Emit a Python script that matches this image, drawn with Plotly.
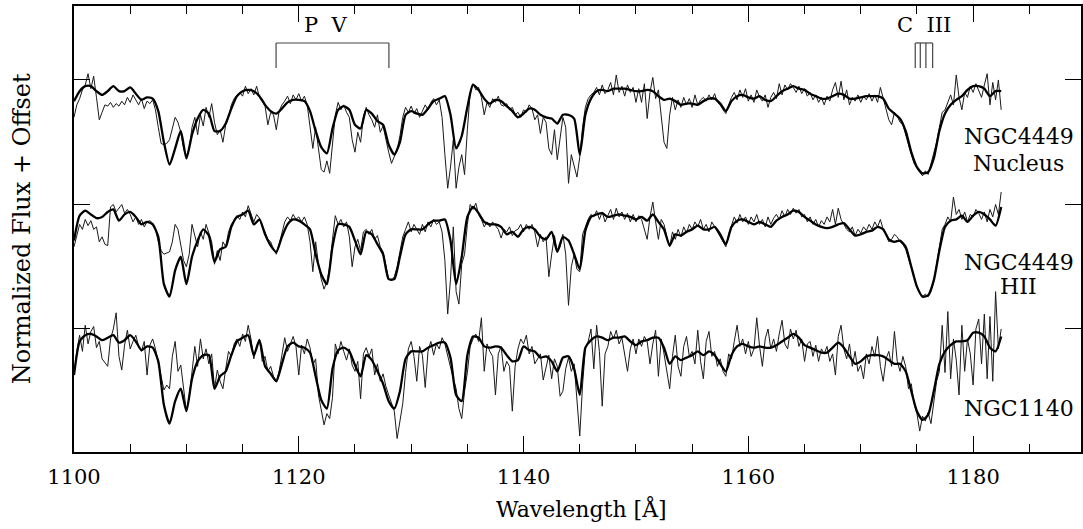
import numpy as np
import plotly.graph_objects as go

# model fits (thick lines), sampled every 0.5 A from 1100 A
model_nucleus = [
    0.83, 0.91, 0.95, 0.95, 0.91, 0.88, 0.91, 0.95, 0.91, 0.91,
    0.94, 0.89, 0.84, 0.86, 0.85, 0.75, 0.50, 0.32, 0.45, 0.59,
    0.37, 0.56, 0.69, 0.76, 0.73, 0.59, 0.59, 0.65, 0.77, 0.87,
    0.91, 0.92, 0.91, 0.87, 0.80, 0.75, 0.73, 0.77, 0.82, 0.84,
    0.84, 0.83, 0.75, 0.59, 0.46, 0.41, 0.61, 0.76, 0.79, 0.76,
    0.64, 0.61, 0.76, 0.73, 0.67, 0.64, 0.48, 0.40, 0.50, 0.72,
    0.75, 0.73, 0.72, 0.77, 0.83, 0.85, 0.87, 0.72, 0.45, 0.55,
    0.78, 0.96, 0.92, 0.85, 0.81, 0.84, 0.83, 0.79, 0.75, 0.70,
    0.73, 0.77, 0.76, 0.72, 0.70, 0.69, 0.65, 0.72, 0.72, 0.69,
    0.40, 0.72, 0.85, 0.91, 0.92, 0.91, 0.93, 0.93, 0.93, 0.92,
    0.91, 0.91, 0.92, 0.91, 0.87, 0.84, 0.85, 0.83, 0.80, 0.81,
    0.81, 0.80, 0.83, 0.85, 0.85, 0.81, 0.75, 0.83, 0.87, 0.88,
    0.86, 0.85, 0.87, 0.84, 0.83, 0.87, 0.91, 0.93, 0.95, 0.93,
    0.92, 0.89, 0.87, 0.85, 0.85, 0.87, 0.89, 0.88, 0.85, 0.85,
    0.86, 0.87, 0.87, 0.87, 0.85, 0.77, 0.73, 0.69, 0.59, 0.42,
    0.30, 0.25, 0.26, 0.37, 0.59, 0.73, 0.80, 0.84, 0.87, 0.92,
    0.95, 0.95, 0.93, 0.87, 0.91, 0.91,
]
model_hii = [
    0.71, 0.91, 0.95, 0.92, 0.89, 0.90, 0.94, 0.96, 0.87, 0.92,
    0.94, 0.90, 0.84, 0.86, 0.84, 0.74, 0.36, 0.26, 0.47, 0.58,
    0.36, 0.58, 0.71, 0.80, 0.75, 0.54, 0.64, 0.66, 0.82, 0.90,
    0.92, 0.95, 0.84, 0.88, 0.76, 0.67, 0.62, 0.74, 0.84, 0.88,
    0.87, 0.84, 0.80, 0.60, 0.44, 0.36, 0.66, 0.84, 0.84, 0.82,
    0.71, 0.60, 0.78, 0.76, 0.68, 0.60, 0.40, 0.40, 0.58, 0.76,
    0.80, 0.80, 0.80, 0.84, 0.87, 0.87, 0.88, 0.71, 0.36, 0.58,
    0.90, 0.98, 0.93, 0.86, 0.84, 0.84, 0.82, 0.76, 0.78, 0.74,
    0.80, 0.82, 0.80, 0.74, 0.72, 0.78, 0.62, 0.74, 0.71, 0.60,
    0.48, 0.79, 0.90, 0.92, 0.93, 0.90, 0.91, 0.92, 0.91, 0.90,
    0.88, 0.90, 0.87, 0.92, 0.86, 0.80, 0.67, 0.76, 0.75, 0.78,
    0.80, 0.83, 0.80, 0.80, 0.82, 0.76, 0.68, 0.82, 0.87, 0.88,
    0.86, 0.84, 0.86, 0.84, 0.82, 0.87, 0.90, 0.92, 0.95, 0.94,
    0.90, 0.87, 0.84, 0.82, 0.81, 0.82, 0.84, 0.85, 0.80, 0.75,
    0.76, 0.78, 0.79, 0.82, 0.80, 0.72, 0.70, 0.71, 0.66, 0.50,
    0.34, 0.26, 0.27, 0.39, 0.63, 0.82, 0.87, 0.88, 0.91, 0.86,
    0.91, 0.94, 0.92, 0.88, 0.83, 0.98,
]
model_1140 = [
    0.63, 0.90, 0.95, 0.96, 0.94, 0.91, 0.93, 0.95, 0.89, 0.91,
    0.95, 0.90, 0.83, 0.86, 0.85, 0.74, 0.39, 0.24, 0.42, 0.52,
    0.34, 0.60, 0.74, 0.79, 0.79, 0.52, 0.62, 0.66, 0.79, 0.90,
    0.93, 0.95, 0.79, 0.91, 0.70, 0.64, 0.58, 0.72, 0.86, 0.89,
    0.86, 0.85, 0.81, 0.62, 0.43, 0.36, 0.68, 0.83, 0.85, 0.82,
    0.71, 0.62, 0.79, 0.75, 0.66, 0.56, 0.42, 0.36, 0.50, 0.76,
    0.82, 0.82, 0.82, 0.85, 0.87, 0.89, 0.89, 0.77, 0.47, 0.42,
    0.79, 0.94, 0.93, 0.86, 0.85, 0.86, 0.85, 0.79, 0.74, 0.75,
    0.86, 0.83, 0.82, 0.77, 0.78, 0.74, 0.66, 0.77, 0.78, 0.68,
    0.47, 0.85, 0.91, 0.94, 0.93, 0.91, 0.93, 0.93, 0.94, 0.90,
    0.87, 0.90, 0.91, 0.93, 0.93, 0.85, 0.72, 0.78, 0.75, 0.77,
    0.79, 0.82, 0.79, 0.82, 0.79, 0.72, 0.66, 0.79, 0.86, 0.88,
    0.86, 0.85, 0.86, 0.85, 0.85, 0.87, 0.90, 0.93, 0.96, 0.93,
    0.87, 0.85, 0.83, 0.81, 0.81, 0.85, 0.89, 0.85, 0.78, 0.72,
    0.74, 0.78, 0.79, 0.79, 0.78, 0.75, 0.72, 0.72, 0.66, 0.50,
    0.34, 0.27, 0.31, 0.50, 0.72, 0.82, 0.87, 0.90, 0.90, 0.91,
    0.97, 0.97, 0.94, 0.85, 0.82, 0.94,
]

# observed spectra (thin lines), sampled every 0.25 A from 1100 A
obs_nucleus = [
    0.70, 0.80, 0.85, 0.92, 0.96, 1.05, 0.93, 1.03, 0.86, 0.68, 0.74, 0.80, 0.79, 0.82, 0.78, 0.81, 0.79, 0.83, 0.80, 0.86,
    0.82, 0.88, 0.84, 0.80, 0.85, 0.77, 0.83, 0.81, 0.84, 0.76, 0.62, 0.49, 0.48, 0.49, 0.52, 0.60, 0.70, 0.66, 0.58, 0.45,
    0.38, 0.45, 0.62, 0.70, 0.56, 0.72, 0.63, 0.78, 0.70, 0.81, 0.66, 0.56, 0.60, 0.50, 0.64, 0.70, 0.80, 0.85, 0.88, 0.90,
    0.87, 0.95, 0.89, 0.93, 0.88, 0.95, 0.86, 0.83, 0.79, 0.64, 0.74, 0.72, 0.60, 0.75, 0.80, 0.83, 0.87, 0.81, 0.88, 0.84,
    0.89, 0.83, 0.87, 0.80, 0.60, 0.45, 0.62, 0.44, 0.28, 0.26, 0.35, 0.25, 0.48, 0.72, 0.82, 0.76, 0.80, 0.74, 0.70, 0.52,
    0.42, 0.58, 0.50, 0.70, 0.78, 0.72, 0.68, 0.62, 0.72, 0.58, 0.63, 0.52, 0.42, 0.33, 0.38, 0.44, 0.55, 0.70, 0.78, 0.74,
    0.79, 0.73, 0.77, 0.70, 0.75, 0.80, 0.76, 0.82, 0.85, 0.80, 0.84, 0.70, 0.40, 0.13, 0.30, 0.52, 0.13, 0.30, 0.40, 0.24,
    0.60, 0.90, 0.97, 0.92, 0.94, 0.86, 0.72, 0.82, 0.78, 0.85, 0.82, 0.87, 0.80, 0.79, 0.81, 0.76, 0.78, 0.72, 0.74, 0.70,
    0.76, 0.74, 0.80, 0.77, 0.68, 0.72, 0.57, 0.70, 0.66, 0.45, 0.40, 0.60, 0.36, 0.55, 0.70, 0.62, 0.17, 0.40, 0.30, 0.22,
    0.38, 0.62, 0.78, 0.85, 0.88, 0.90, 0.94, 0.88, 0.96, 0.89, 0.92, 0.98, 0.88, 1.04, 0.90, 0.95, 0.87, 0.96, 0.90, 0.94,
    0.82, 0.93, 0.82, 0.97, 0.69, 0.90, 1.02, 0.85, 0.92, 0.72, 0.50, 0.45, 0.72, 0.86, 0.76, 0.84, 0.78, 0.86, 0.80, 0.85,
    0.78, 0.88, 0.80, 0.84, 0.86, 0.83, 0.88, 0.84, 0.89, 0.82, 0.80, 0.76, 0.73, 0.80, 0.86, 0.90, 0.84, 0.92, 0.86, 0.93,
    0.83, 0.88, 0.82, 0.92, 0.86, 0.83, 0.88, 0.78, 0.86, 0.90, 0.85, 0.97, 0.88, 0.96, 0.92, 0.97, 0.94, 0.90, 0.95, 0.89,
    0.93, 0.87, 0.90, 0.84, 0.88, 0.82, 0.86, 0.80, 0.87, 0.83, 0.92, 0.98, 0.86, 0.99, 0.84, 0.92, 0.80, 0.86, 0.83, 0.88,
    0.82, 0.87, 0.84, 0.89, 0.83, 0.88, 0.82, 0.94, 0.86, 0.78, 0.68, 0.64, 0.74, 0.71, 0.66, 0.64, 0.56, 0.46, 0.40, 0.33,
    0.29, 0.26, 0.23, 0.27, 0.24, 0.32, 0.40, 0.50, 0.62, 0.74, 0.76, 0.82, 0.88, 0.80, 1.04, 0.86, 0.76, 0.90, 0.86, 0.95,
    0.90, 0.97, 0.92, 0.86, 0.96, 1.05, 0.80, 0.98, 0.84, 1.00, 0.76,
]
obs_hii = [
    0.66, 0.75, 0.84, 0.80, 0.88, 0.83, 0.87, 0.80, 0.82, 0.70, 0.74, 0.68, 0.67, 0.98, 1.00, 0.94, 0.97, 1.00, 0.93, 0.96,
    0.92, 0.86, 0.90, 0.84, 0.88, 0.82, 0.86, 0.87, 0.85, 0.80, 0.70, 0.63, 0.60, 0.61, 0.62, 0.70, 0.84, 0.80, 0.66, 0.55,
    0.50, 0.60, 0.84, 0.74, 0.66, 0.78, 0.72, 0.84, 0.76, 0.70, 0.52, 0.63, 0.55, 0.70, 0.66, 0.78, 0.84, 0.87, 0.91, 0.88,
    0.94, 0.90, 0.99, 0.92, 0.86, 0.92, 0.89, 0.82, 0.78, 0.72, 0.70, 0.64, 0.60, 0.68, 0.78, 0.86, 0.90, 0.87, 0.92, 0.88,
    0.90, 0.86, 0.90, 0.84, 0.70, 0.46, 0.70, 0.52, 0.40, 0.32, 0.38, 0.50, 0.72, 0.91, 0.84, 0.88, 0.82, 0.86, 0.74, 0.50,
    0.66, 0.72, 0.63, 0.78, 0.80, 0.76, 0.80, 0.72, 0.75, 0.66, 0.62, 0.52, 0.40, 0.39, 0.42, 0.50, 0.62, 0.74, 0.80, 0.86,
    0.78, 0.84, 0.80, 0.76, 0.84, 0.78, 0.86, 0.82, 0.88, 0.84, 0.86, 0.78, 0.55, 0.12, 0.40, 0.82, 0.30, 0.20, 0.52, 0.60,
    0.84, 1.00, 0.96, 1.01, 0.92, 0.88, 0.82, 0.86, 0.82, 0.86, 0.83, 0.80, 0.73, 0.80, 0.78, 0.82, 0.75, 0.79, 0.80, 0.84,
    0.78, 0.84, 0.80, 0.84, 0.78, 0.66, 0.76, 0.70, 0.74, 0.42, 0.60, 0.75, 0.62, 0.66, 0.76, 0.60, 0.19, 0.50, 0.60, 0.48,
    0.46, 0.76, 0.82, 0.88, 0.92, 0.90, 0.95, 0.88, 0.94, 0.86, 0.91, 0.96, 0.88, 0.97, 0.90, 0.94, 0.88, 0.93, 0.86, 0.92,
    0.86, 0.91, 0.88, 0.80, 0.72, 0.90, 1.02, 0.86, 0.72, 0.88, 0.84, 0.74, 0.66, 0.78, 0.72, 0.80, 0.74, 0.82, 0.77, 0.84,
    0.80, 0.86, 0.82, 0.88, 0.80, 0.84, 0.78, 0.86, 0.82, 0.78, 0.74, 0.70, 0.66, 0.76, 0.84, 0.90, 0.85, 0.92, 0.86, 0.90,
    0.84, 0.90, 0.86, 0.92, 0.84, 0.88, 0.82, 0.90, 0.84, 0.89, 0.92, 0.88, 0.95, 0.90, 0.96, 0.92, 0.97, 0.93, 0.96, 0.90,
    0.92, 0.86, 0.90, 0.84, 0.88, 0.82, 0.87, 0.84, 0.90, 0.86, 0.96, 0.84, 0.97, 0.88, 0.84, 0.80, 0.78, 0.82, 0.75, 0.80,
    0.77, 0.82, 0.79, 0.84, 0.80, 0.86, 0.82, 0.88, 0.80, 0.76, 0.70, 0.72, 0.76, 0.74, 0.70, 0.68, 0.64, 0.56, 0.48, 0.40,
    0.34, 0.29, 0.26, 0.28, 0.26, 0.30, 0.38, 0.52, 0.66, 0.80, 0.84, 0.90, 0.86, 1.06, 0.92, 0.96, 0.88, 0.94, 0.86, 0.92,
    0.90, 0.96, 0.93, 0.88, 0.94, 0.86, 0.96, 0.90, 1.00, 0.92, 1.10,
]
obs_1140 = [
    0.63, 0.82, 0.95, 0.82, 1.03, 0.88, 0.98, 1.02, 0.85, 0.90, 0.76, 0.73, 0.70, 0.92, 1.00, 1.13, 0.78, 0.67, 0.87, 0.99,
    0.84, 0.90, 0.95, 0.86, 0.82, 0.90, 0.63, 0.87, 0.92, 0.84, 0.74, 0.62, 0.51, 0.55, 0.52, 0.78, 0.90, 0.66, 0.71, 0.50,
    0.34, 0.45, 0.68, 0.86, 0.70, 0.92, 0.76, 0.84, 0.72, 0.80, 0.52, 0.67, 0.58, 0.52, 0.68, 0.82, 0.78, 0.88, 0.92, 0.86,
    0.96, 0.90, 1.03, 0.92, 0.76, 0.86, 0.92, 0.74, 0.78, 0.66, 0.70, 0.62, 0.58, 0.66, 0.79, 0.93, 0.82, 0.88, 0.94, 0.86,
    0.63, 0.87, 0.80, 0.92, 0.85, 0.71, 0.76, 0.47, 0.35, 0.23, 0.32, 0.28, 0.45, 0.88, 0.80, 0.90, 0.82, 0.75, 0.84, 0.71,
    0.66, 0.74, 0.44, 0.80, 0.85, 0.78, 0.84, 0.63, 0.72, 0.58, 0.64, 0.54, 0.47, 0.40, 0.34, 0.12, 0.26, 0.40, 0.65, 0.84,
    0.90, 0.78, 0.58, 0.86, 0.79, 0.53, 0.82, 0.90, 0.79, 0.88, 0.84, 0.93, 0.88, 0.78, 0.70, 0.60, 0.52, 0.36, 0.28, 0.50,
    0.65, 0.86, 0.92, 0.96, 0.90, 1.09, 0.66, 0.88, 0.82, 0.78, 0.47, 0.80, 0.86, 0.66, 0.74, 0.70, 0.34, 0.70, 0.84, 0.92,
    0.88, 0.95, 0.80, 0.86, 0.72, 0.76, 0.80, 0.59, 0.70, 0.79, 0.60, 0.76, 0.70, 0.46, 0.50, 0.68, 0.77, 0.66, 0.72, 0.42,
    0.14, 0.55, 0.84, 0.90, 1.00, 0.68, 1.03, 0.82, 0.38, 0.80, 0.86, 0.98, 0.92, 0.99, 0.88, 0.93, 0.80, 0.66, 0.84, 0.92,
    0.80, 0.92, 0.86, 0.94, 0.90, 0.72, 0.88, 0.99, 0.62, 0.92, 0.80, 0.66, 0.52, 0.78, 0.95, 0.70, 0.62, 0.86, 0.94, 0.78,
    0.82, 0.72, 0.99, 0.74, 0.60, 0.90, 0.98, 0.78, 0.82, 0.70, 0.76, 0.66, 0.62, 0.80, 0.76, 0.90, 1.03, 0.86, 0.92, 0.80,
    0.90, 0.78, 0.84, 1.09, 0.86, 0.70, 0.92, 1.00, 0.84, 0.92, 0.82, 0.96, 1.07, 0.88, 0.84, 1.00, 0.92, 0.99, 0.86, 0.92,
    0.74, 0.88, 0.90, 0.78, 0.87, 0.74, 0.84, 0.80, 0.86, 0.74, 0.80, 0.63, 0.94, 1.03, 0.84, 0.76, 0.88, 0.70, 0.82, 0.66,
    0.71, 0.60, 0.80, 0.72, 0.86, 0.78, 0.94, 0.70, 0.58, 0.76, 0.82, 0.70, 0.98, 0.74, 0.66, 0.78, 0.70, 0.52, 0.56, 0.40,
    0.32, 0.18, 0.30, 0.26, 0.33, 0.24, 0.40, 0.58, 0.66, 1.03, 0.65, 1.14, 0.60, 0.92, 0.75, 0.47, 1.03, 0.66, 0.92, 0.80,
    0.55, 1.00, 1.08, 0.72, 1.12, 0.60, 1.10, 0.58, 1.30, 0.84, 1.00,
]

offsets = [2, 1, 0]

# line identifications
pv_lines = [1117.98, 1128.02]
ciii_lines = [1174.85, 1175.3, 1175.8, 1176.4]

FONT = "DejaVu Serif"
fig = go.Figure()

for obs, model, off in zip([obs_nucleus, obs_hii, obs_1140],
                           [model_nucleus, model_hii, model_1140], offsets):
    w_obs = 1100 + 0.25 * np.arange(len(obs))
    w_mod = 1100 + 0.5 * np.arange(len(model))
    fig.add_trace(go.Scatter(x=w_obs, y=np.array(obs) + off, mode="lines",
                             line=dict(color="#1a1a1a", width=1), showlegend=False))
    fig.add_trace(go.Scatter(x=w_mod, y=np.array(model) + off, mode="lines",
                             line=dict(color="black", width=2.3, shape="spline", smoothing=0.6),
                             showlegend=False))

# bracket for P V doublet and C III multiplet
y_lo, y_hi = 3.096, 3.297
br = dict(color="#444", width=1.2)
fig.add_shape(type="line", x0=pv_lines[0], x1=pv_lines[1], y0=y_hi, y1=y_hi, line=br)
for w in pv_lines:
    fig.add_shape(type="line", x0=w, x1=w, y0=y_lo, y1=y_hi, line=br)
fig.add_shape(type="line", x0=ciii_lines[0], x1=ciii_lines[-1], y0=y_hi, y1=y_hi, line=br)
for w in ciii_lines:
    fig.add_shape(type="line", x0=w, x1=w, y0=y_lo, y1=y_hi, line=br)

txt = dict(family=FONT, size=21, color="black")
fig.add_annotation(x=1122.4, y=3.44, text="P\u00a0\u00a0V", showarrow=False, font=txt)
fig.add_annotation(x=1175.6, y=3.44, text="C\u00a0\u00a0III", showarrow=False, font=txt)

lab = dict(family=FONT, size=22, color="black")
fig.add_annotation(x=1184.06, y=2.542, text="NGC4449", showarrow=False, font=lab)
fig.add_annotation(x=1184.06, y=2.333, text="Nucleus", showarrow=False, font=lab)
fig.add_annotation(x=1184.06, y=1.534, text="NGC4449", showarrow=False, font=lab)
fig.add_annotation(x=1184.06, y=1.341, text="HII", showarrow=False, font=lab)
fig.add_annotation(x=1184.06, y=0.365, text="NGC1140", showarrow=False, font=lab)

# axis titles
fig.add_annotation(xref="paper", yref="paper", x=0.5035, y=-0.1256, text="Wavelength [Å]",
                   showarrow=False, font=lab, yanchor="middle")
fig.add_annotation(xref="paper", yref="paper", x=-0.0515, y=0.5, text="Normalized Flux + Offset",
                   showarrow=False, font=dict(family=FONT, size=24, color="black"),
                   textangle=-90, xanchor="center")

fig.update_xaxes(range=[1100, 1189.6], tick0=1100, dtick=20, ticks="inside", ticklen=16,
                 tickwidth=1.2, tickcolor="black", showline=True, linecolor="black", linewidth=1.5,
                 mirror="ticks", showgrid=False, zeroline=False, ticklabelstandoff=5,
                 tickfont=dict(family=FONT, size=21, color="black"),
                 minor=dict(tick0=1100, dtick=5, ticks="inside", ticklen=8, tickwidth=1.2,
                            tickcolor="black", showgrid=False))
fig.update_yaxes(range=[0.012, 3.594], tickvals=[1, 2, 3], ticks="inside", ticklen=16,
                 tickwidth=1.2, tickcolor="black", showline=True, linecolor="black", linewidth=1.5,
                 mirror="ticks", showgrid=False, zeroline=False, showticklabels=False)

fig.update_layout(width=1083, height=529, margin=dict(l=74, r=0, t=6, b=77),
                  plot_bgcolor="white", paper_bgcolor="white")

# page body has a default margin; drop it so the figure sits at the window corner
fig.write_html("out.html", config={"displayModeBar": False},
               post_script="document.body.style.margin='0';")
